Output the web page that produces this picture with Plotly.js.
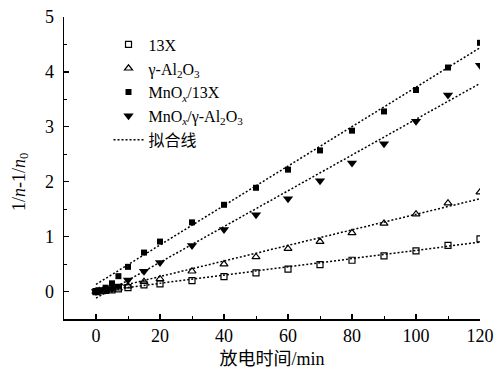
<!DOCTYPE html>
<html>
<head>
<meta charset="utf-8">
<script src="https://cdn.plot.ly/plotly-3.0.1.min.js"></script>
<style>html,body{margin:0;padding:0;background:#fff;}#chart{width:494px;height:369px;}</style>
</head>
<body>
<div id="chart"></div>
<script>
// Discharge time (min)
const timeMin = [0, 1, 3, 5, 7, 10, 15, 20, 30, 40, 50, 60, 70, 80, 90, 100, 110, 120];
// 1/n - 1/n0 values
const y13X      = [0, 0.01, 0.02, 0.03, 0.05, 0.07, 0.12, 0.14, 0.20, 0.27, 0.34, 0.41, 0.49, 0.57, 0.65, 0.74, 0.84, 0.96];
const yAl2O3    = [0, 0.01, 0.02, 0.04, 0.06, 0.10, 0.18, 0.23, 0.37, 0.50, 0.63, 0.78, 0.91, 1.07, 1.24, 1.41, 1.61, 1.81];
const yMn13X    = [0, 0.02, 0.07, 0.15, 0.28, 0.45, 0.71, 0.91, 1.26, 1.58, 1.89, 2.22, 2.57, 2.93, 3.28, 3.67, 4.08, 4.53];
const yMnAl2O3  = [0, 0.01, 0.03, 0.05, 0.10, 0.21, 0.37, 0.53, 0.84, 1.13, 1.40, 1.69, 2.02, 2.34, 2.69, 3.10, 3.58, 4.12];
// Fitted lines (endpoints)
const fitX        = [0, 120];
const fit13X      = [0.00, 0.90];
const fitAl2O3    = [-0.01, 1.69];
const fitMn13X    = [0.13, 4.44];
const fitMnAl2O3  = [-0.12, 3.79];

const names = ['13X', 'γ-Al<sub>2</sub>O<sub>3</sub>', 'MnO<sub><i>x</i></sub>/13X', 'MnO<sub><i>x</i></sub>/γ-Al<sub>2</sub>O<sub>3</sub>', '拟合线'];
const xTitle = '放电时间/min';
const yTitle = '1/<i>n</i>-1/<i>n</i><sub>0</sub>';

const serif = '"Liberation Serif", "Times New Roman", "Noto Sans CJK SC", serif';
const dotLine = {color: '#000', width: 1.5, dash: '2px,2px'};

const traces = [
  {x: timeMin, y: y13X, name: names[0], mode: 'markers', type: 'scatter',
   marker: {symbol: 'square-open', size: 6, color: '#000', line: {width: 1.2}}},
  {x: timeMin, y: yAl2O3, name: names[1], mode: 'markers', type: 'scatter',
   marker: {symbol: 'triangle-up-open', size: 7, color: '#000', line: {width: 1.2}}},
  {x: timeMin, y: yMn13X, name: names[2], mode: 'markers', type: 'scatter',
   marker: {symbol: 'square', size: 6, color: '#000'}},
  {x: timeMin, y: yMnAl2O3, name: names[3], mode: 'markers', type: 'scatter',
   marker: {symbol: 'triangle-down', size: 9, color: '#000'}},
  {x: fitX, y: fit13X, name: names[4], mode: 'lines', type: 'scatter', line: dotLine, showlegend: true},
  {x: fitX, y: fitAl2O3, name: names[4], mode: 'lines', type: 'scatter', line: dotLine, showlegend: false},
  {x: fitX, y: fitMn13X, name: names[4], mode: 'lines', type: 'scatter', line: dotLine, showlegend: false},
  {x: fitX, y: fitMnAl2O3, name: names[4], mode: 'lines', type: 'scatter', line: dotLine, showlegend: false}
];

const layout = {
  width: 494, height: 369,
  margin: {l: 64, r: 14, t: 17, b: 50},
  paper_bgcolor: '#fff', plot_bgcolor: '#fff',
  font: {family: serif, size: 18, color: '#000'},
  showlegend: true,
  legend: {x: 0.107, y: 0.965, xanchor: 'left', yanchor: 'top', bgcolor: 'rgba(0,0,0,0)',
           font: {family: serif, size: 16, color: '#000'}, itemwidth: 30, tracegroupgap: 0},
  xaxis: {
    range: [-10, 120], showgrid: false, zeroline: false,
    showline: true, linecolor: '#000', linewidth: 1.5, mirror: false,
    ticks: 'inside', ticklen: 5, tickwidth: 1.2, tickcolor: '#000',
    tick0: 0, dtick: 20, ticklabelstandoff: 0,
    minor: {ticks: 'inside', ticklen: 3, dtick: 10, tick0: 0, tickcolor: '#000', tickwidth: 1},
    tickfont: {family: serif, size: 18},
    title: {text: xTitle, font: {family: serif, size: 18}, standoff: 8}
  },
  yaxis: {
    range: [-0.5, 5], showgrid: false, zeroline: false,
    showline: true, linecolor: '#000', linewidth: 1.5, mirror: false,
    ticks: 'inside', ticklen: 5, tickwidth: 1.2, tickcolor: '#000',
    tick0: 0, dtick: 1, ticklabelstandoff: 5,
    minor: {ticks: 'inside', ticklen: 3, dtick: 0.5, tick0: 0, tickcolor: '#000', tickwidth: 1},
    tickfont: {family: serif, size: 18}
  },
  annotations: [
    {text: yTitle, xref: 'paper', yref: 'paper', x: -0.105, y: 0.455, xanchor: 'center', yanchor: 'middle',
     textangle: -90, showarrow: false, font: {family: serif, size: 18, color: '#000'}}
  ]
};

Plotly.newPlot('chart', traces, layout, {staticPlot: true, displayModeBar: false});
</script>
</body>
</html>
